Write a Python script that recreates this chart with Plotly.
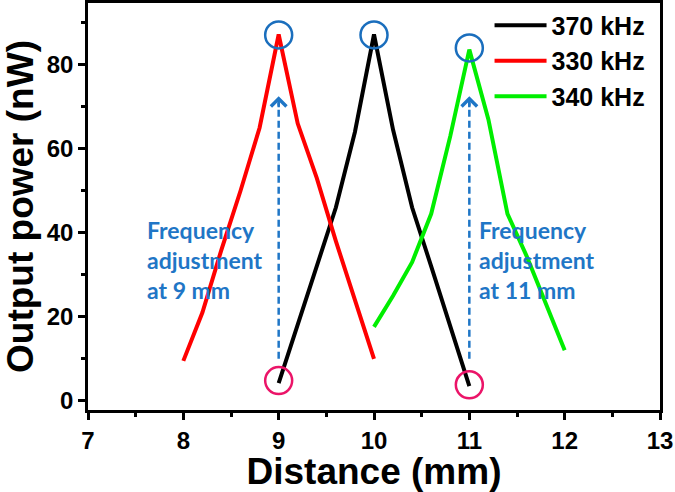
import plotly.graph_objects as go

# ---- data ----
x_370 = [9.0, 9.2, 9.4, 9.6, 9.8, 10.0, 10.2, 10.4, 10.6, 10.8, 11.0]
y_370 = [4.2, 18, 32, 46, 64, 87.2, 64.5, 46, 32, 18, 3.5]

x_330 = [8.0, 8.2, 8.4, 8.6, 8.8, 9.0, 9.2, 9.4, 9.6, 9.8, 10.0]
y_330 = [9.5, 21, 36, 50, 65, 87.2, 66, 53, 38, 24, 10]

x_340 = [10.0, 10.2, 10.4, 10.6, 10.8, 11.0, 11.2, 11.4, 11.6, 11.8, 12.0]
y_340 = [17.6, 25, 33, 44.5, 63, 83.6, 67, 44.5, 34.5, 23.5, 12]

peak_x = [9, 10, 11]
peak_y = [87.1, 87.1, 84.0]
low_x = [9, 11]
low_y = [4.8, 3.8]

arrow_x = [9, 11]
arrow_y0 = [10, 10]
arrow_y1 = [72.5, 72.5]

note_x = [7.6, 11.08]
note_text = ["Frequency<br>adjustment<br>at 9 mm", "Frequency<br>adjustment<br>at 11 mm"]

x_ticks = [7, 8, 9, 10, 11, 12, 13]
y_ticks = [0, 20, 40, 60, 80]

BLUE_TXT = "#1f76c6"
BLUE_CIR = "#1a6ebd"
PINK = "#eb1468"
AX_FONT = "Arial, Liberation Sans, sans-serif"

fig = go.Figure()

fig.add_trace(go.Scatter(x=x_370, y=y_370, mode="lines", name="370 kHz",
                         line=dict(color="black", width=4)))
fig.add_trace(go.Scatter(x=x_330, y=y_330, mode="lines", name="330 kHz",
                         line=dict(color="#ff0000", width=4)))
fig.add_trace(go.Scatter(x=x_340, y=y_340, mode="lines", name="340 kHz",
                         line=dict(color="#00ee00", width=4)))

# dashed arrows
for ax_, y0, y1 in zip(arrow_x, arrow_y0, arrow_y1):
    fig.add_trace(go.Scatter(x=[ax_, ax_], y=[y0, y1 - 1.5], mode="lines",
                             line=dict(color=BLUE_TXT, width=2.5, dash="7px,4px"),
                             showlegend=False, hoverinfo="skip"))
    fig.add_annotation(x=ax_, y=y1, ax=ax_, ay=y1 - 3, xref="x", yref="y",
                       axref="x", ayref="y", showarrow=True, arrowhead=4,
                       arrowsize=1.2, arrowwidth=2.5, arrowcolor=BLUE_TXT, text="")

# circles
fig.add_trace(go.Scatter(x=peak_x, y=peak_y, mode="markers", showlegend=False,
                         marker=dict(symbol="circle-open", size=27, color=BLUE_CIR,
                                     line=dict(width=2.5, color=BLUE_CIR))))
fig.add_trace(go.Scatter(x=low_x, y=low_y, mode="markers", showlegend=False,
                         marker=dict(symbol="circle-open", size=27, color=PINK,
                                     line=dict(width=2.5, color=PINK))))

for nx, nt in zip(note_x, note_text):
    fig.add_annotation(x=nx, y=44.5, xref="x", yref="y", text=nt, showarrow=False,
                       xanchor="left", yanchor="top", align="left",
                       font=dict(family="Lato, sans-serif", size=23, color=BLUE_TXT,
                                 weight="bold"))

axis_common = dict(showline=True, linecolor="black", linewidth=2.5, mirror=True,
                   ticks="outside", ticklen=7, tickwidth=2.5, tickcolor="black",
                   showgrid=False, zeroline=False, automargin=False,
                   tickfont=dict(family=AX_FONT, size=24, color="black", weight="bold"))

fig.update_xaxes(range=[7, 13], tickvals=x_ticks,
                 minor=dict(dtick=0.5, ticks="outside", ticklen=4, tickwidth=2.5, tickcolor="black"),
                 title=dict(text="Distance (mm)", standoff=6,
                            font=dict(family=AX_FONT, size=37, color="black", weight="bold")),
                 **axis_common)
fig.update_yaxes(range=[-2.2, 94.7], tickvals=y_ticks,
                 minor=dict(dtick=10, ticks="outside", ticklen=4, tickwidth=2.5, tickcolor="black"),
                 title=dict(text="Output power (nW)", standoff=10,
                            font=dict(family=AX_FONT, size=37, color="black", weight="bold")),
                 **axis_common)

fig.update_layout(
    width=675, height=492,
    margin=dict(l=88, r=15, t=3, b=82, autoexpand=False),
    plot_bgcolor="white", paper_bgcolor="white",
    legend=dict(x=0.702, y=0.995, yref="container", xanchor="left", yanchor="top",
                bgcolor="rgba(0,0,0,0)",
                font=dict(family=AX_FONT, size=25, color="black", weight="bold"),
                tracegroupgap=0, itemwidth=52),
)

fig.write_html("out.html", config={"displayModeBar": False},
               post_script="document.body.style.margin='0';")
